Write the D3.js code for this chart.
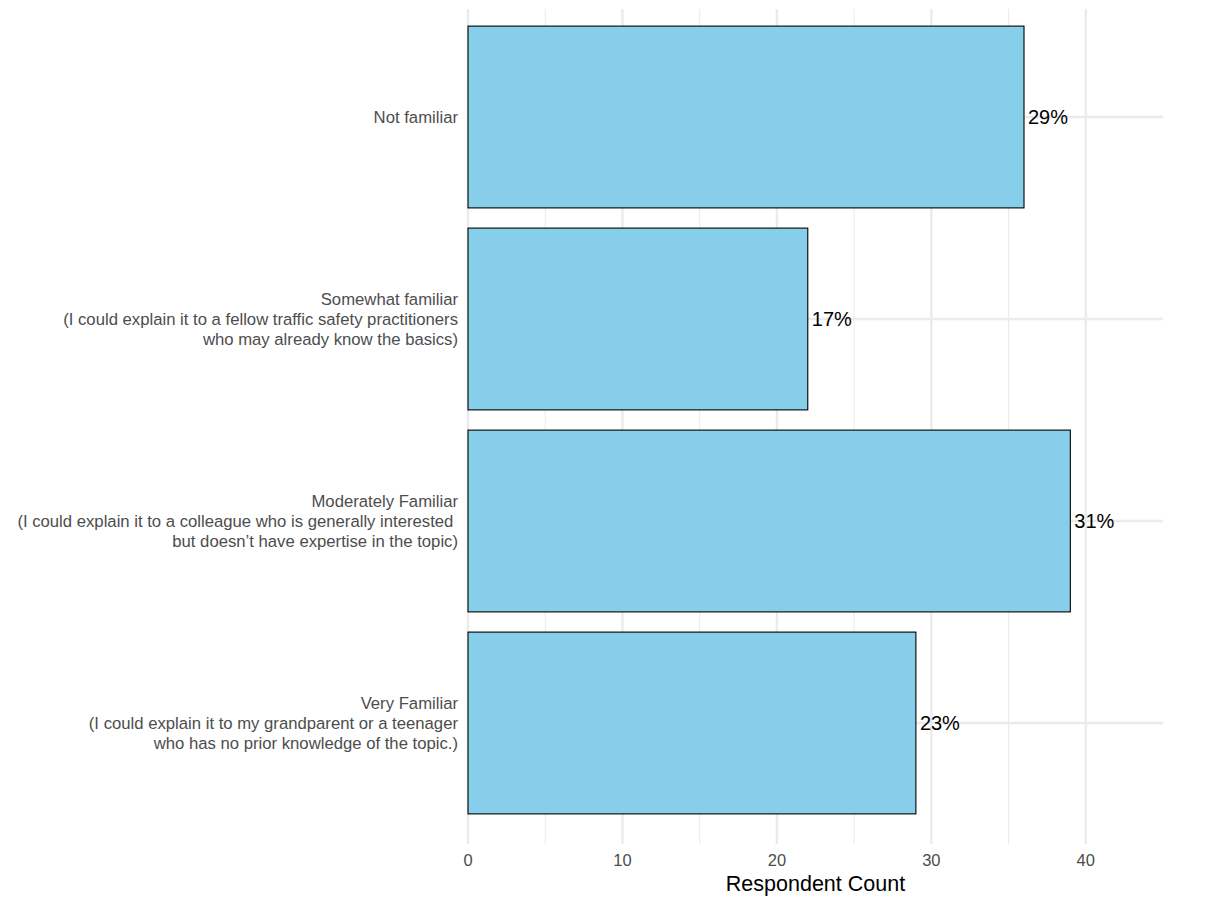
<!DOCTYPE html>
<html>
<head>
<meta charset="utf-8">
<script src="https://cdn.jsdelivr.net/npm/d3@7"></script>
<style>
  body { margin: 0; background: #fff; }
  svg { display: block; font-family: "Liberation Sans", Arial, sans-serif; }
</style>
</head>
<body>
<svg id="chart" width="1231" height="899"></svg>
<script>
// Familiarity levels (top to bottom) with their multi-line labels
const categories = ["Not familiar", "Somewhat familiar", "Moderately Familiar", "Very Familiar"];
const categoryLabels = [
  ["Not familiar"],
  ["Somewhat familiar", "(I could explain it to a fellow traffic safety practitioners", "who may already know the basics)"],
  ["Moderately Familiar", "(I could explain it to a colleague who is generally interested ", "but doesn\u2019t have expertise in the topic)"],
  ["Very Familiar", "(I could explain it to my grandparent or a teenager", "who has no prior knowledge of the topic.)"]
];
const counts = [36, 22, 39, 29];
const xTicks = [0, 10, 20, 30, 40];
const xMinorTicks = [5, 15, 25, 35];
const axisTitle = "Respondent Count";

const total = d3.sum(counts);
const pctLabel = v => Math.round(v / total * 100) + "%";

const svg = d3.select("#chart");
const panel = { left: 468, right: 1163, top: 9, bottom: 844 };

const x = d3.scaleLinear().domain([0, 45]).range([panel.left, panel.right]);
const y = d3.scaleBand().domain(categories).range([16, 824]).paddingInner(0.1).paddingOuter(0.05);

// grid
const grid = svg.append("g");
grid.selectAll("line.minor").data(xMinorTicks).join("line")
  .attr("x1", d => x(d)).attr("x2", d => x(d))
  .attr("y1", panel.top).attr("y2", panel.bottom)
  .attr("stroke", "#ebebeb").attr("stroke-width", 1.1);
grid.selectAll("line.major").data(xTicks).join("line")
  .attr("x1", d => x(d)).attr("x2", d => x(d))
  .attr("y1", panel.top).attr("y2", panel.bottom)
  .attr("stroke", "#ebebeb").attr("stroke-width", 2.4);
grid.selectAll("line.hmajor").data(categories).join("line")
  .attr("x1", panel.left).attr("x2", panel.right)
  .attr("y1", d => y(d) + y.bandwidth() / 2).attr("y2", d => y(d) + y.bandwidth() / 2)
  .attr("stroke", "#ebebeb").attr("stroke-width", 2.4);

// bars
svg.append("g").selectAll("rect").data(categories).join("rect")
  .attr("x", x(0))
  .attr("y", d => y(d))
  .attr("width", (d, i) => x(counts[i]) - x(0))
  .attr("height", y.bandwidth())
  .attr("fill", "#87ceeb")
  .attr("stroke", "#000")
  .attr("stroke-width", 1.1);

// percentage labels
svg.append("g").selectAll("text").data(categories).join("text")
  .attr("x", (d, i) => x(counts[i]) + 4)
  .attr("y", d => y(d) + y.bandwidth() / 2)
  .attr("dy", "0.35em")
  .attr("font-size", 20)
  .attr("fill", "#000")
  .text((d, i) => pctLabel(counts[i]));

// y axis labels
const lineH = 20;
const yl = svg.append("g");
categories.forEach((c, i) => {
  const lines = categoryLabels[i];
  const cy = y(c) + y.bandwidth() / 2;
  const t = yl.append("text")
    .attr("text-anchor", "end")
    .attr("font-size", 16.7)
    .attr("fill", "#4d4d4d");
  lines.forEach((ln, j) => {
    t.append("tspan")
      .attr("x", 458)
      .attr("y", cy + (j - (lines.length - 1) / 2) * lineH)
      .attr("dy", "0.35em")
      .attr("xml:space", "preserve")
      .text(ln);
  });
});

// x axis tick labels
svg.append("g").selectAll("text").data(xTicks).join("text")
  .attr("x", d => x(d))
  .attr("y", 860)
  .attr("dy", "0.35em")
  .attr("text-anchor", "middle")
  .attr("font-size", 16.5)
  .attr("fill", "#4d4d4d")
  .text(d => d);

// x axis title
svg.append("text")
  .attr("x", (panel.left + panel.right) / 2)
  .attr("y", 883)
  .attr("dy", "0.35em")
  .attr("text-anchor", "middle")
  .attr("font-size", 21.5)
  .attr("fill", "#000")
  .text(axisTitle);
</script>
</body>
</html>
